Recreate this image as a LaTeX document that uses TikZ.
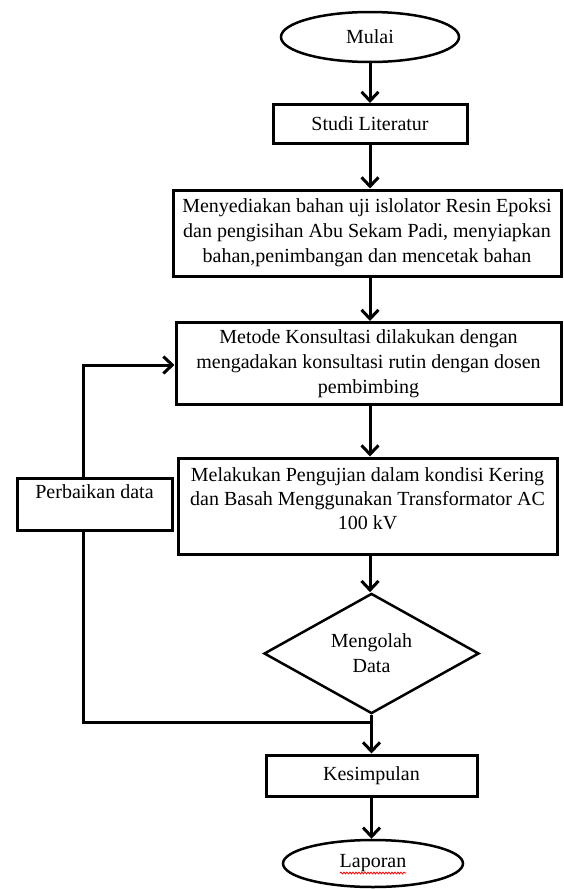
\documentclass[tikz,border=0pt]{standalone}
\usepackage{fontspec}
\setmainfont{Liberation Serif}
\usetikzlibrary{shapes.geometric,arrows.meta,decorations.pathmorphing}
\begin{document}
\begin{tikzpicture}[x=1pt,y=-1pt,
  every node/.style={font=\fontsize{20}{25}\selectfont, inner sep=0pt, align=center},
  box/.style={draw, line width=3pt, rectangle},
  term/.style={draw, line width=2.5pt, ellipse},
  decis/.style={draw, line width=2.5pt, diamond},
  arr/.style={line width=3pt, -{Straight Barb[length=9pt,width=17pt]}},
  plain/.style={line width=3pt}]
\useasboundingbox (0,0) rectangle (563,889);
\coordinate (ax) at (370,0);
\node[term, minimum width=178pt, minimum height=50pt] (mulai) at (370,37) {Mulai};
\node[box, minimum width=194pt, minimum height=39pt] (studi) at (370,124) {Studi Literatur};
\node[box, minimum width=388pt, minimum height=86pt] (bahan) at (367,233)
  {Menyediakan bahan uji islolator Resin Epoksi\\dan pengisihan Abu Sekam Padi, menyiapkan\\bahan,penimbangan dan mencetak bahan};
\node[box, minimum width=385pt, minimum height=82pt] (konsul) at (368.5,363.5)
  {Metode Konsultasi dilakukan dengan\\mengadakan konsultasi rutin dengan dosen\\pembimbing};
\node[box, minimum width=379pt, minimum height=96pt, font=\fontsize{20}{24}\selectfont] (uji) at (367.5,506)
  {Melakukan Pengujian dalam kondisi Kering\\dan Basah Menggunakan Transformator AC\\100 kV\\[-17pt]\strut};
\node[decis, minimum width=215pt, minimum height=116pt] (olah) at (371.5,653.5) {Mengolah\\Data};
\node[box, minimum width=211pt, minimum height=41pt] (kesim) at (371.5,775.5) {Kesimpulan};
\node[term, minimum width=180pt, minimum height=47pt] (lapor) at (373,863.5) {Laporan};
\node[box, minimum width=155pt, minimum height=52pt] (perb) at (94.5,504) {Perbaikan data\\[-8pt]\strut};
\draw[red, line width=0.8pt, decorate, decoration={snake, amplitude=0.9pt, segment length=3pt}]
  (340,873) -- (406,873);
% main flow
\draw[arr] (mulai.south -| ax) -- (ax |- studi.north);
\draw[arr] (studi.south -| ax) -- (ax |- bahan.north);
\draw[arr] (bahan.south -| ax) -- (ax |- konsul.north);
\draw[arr] (konsul.south -| ax) -- (ax |- uji.north);
\draw[arr] (uji.south -| ax) -- (ax |- olah.north);
\draw[arr] (olah.south) -- (olah.south |- kesim.north);
\draw[arr] (kesim.south) -- (kesim.south |- lapor.north);
% feedback loop
\coordinate (j) at (371.5,722);
\coordinate (fl) at (83,722);
\draw[plain] (j) -- (fl) -- (fl |- perb.south);
\draw[arr] (fl |- perb.north) -- (83,365) -- (konsul.west |- 0,365);
\end{tikzpicture}
\end{document}
